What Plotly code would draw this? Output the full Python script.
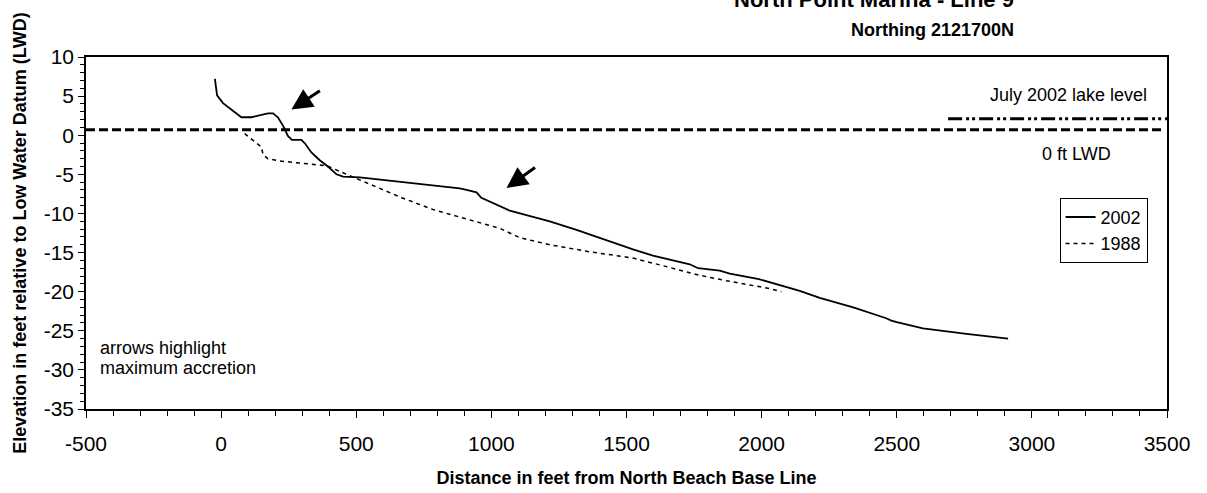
import plotly.graph_objects as go

# 2002 profile
x2002 = [-23, -15, 7, 32, 75, 112, 173, 192, 210, 231, 247, 262, 297, 309, 334, 365, 395, 427, 451,
         513, 650, 883, 908, 945, 963, 994, 1068, 1216, 1315, 1524, 1598, 1734, 1765, 1845, 1882,
         1990, 2103, 2141, 2215, 2339, 2461, 2480, 2500, 2597, 2758, 2912]
y2002 = [7.2, 5.1, 4.1, 3.4, 2.3, 2.3, 2.8, 2.8, 2.3, 1.1, -0.1, -0.6, -0.6, -1.0, -2.2, -3.2, -4.0, -5.0, -5.3,
         -5.4, -5.95, -6.8, -7.0, -7.3, -8.0, -8.5, -9.65, -11.0, -12.1, -14.6, -15.4, -16.5, -17.0, -17.3, -17.7,
         -18.4, -19.5, -19.9, -20.8, -22.0, -23.4, -23.7, -23.9, -24.7, -25.4, -26.0]

# 1988 profile
x1988 = [87, 149, 155, 173, 217, 328, 390, 451, 513, 662, 784, 908, 1031, 1105, 1216, 1364, 1524,
         1648, 1770, 1869, 1918, 2029, 2073]
y1988 = [0.2, -1.5, -2.5, -3.0, -3.3, -3.7, -3.9, -4.8, -5.7, -7.9, -9.5, -10.7, -11.9, -13.1, -14.0, -14.9, -15.7,
         -16.8, -17.9, -18.6, -18.9, -19.6, -20.0]

# reference levels
lwd_x = [-500, 3480]
lwd_y = [0.7, 0.7]
lake_x = [2690, 3500]
lake_y = [2.1, 2.1]

# arrows (tip x, tip y, tail x, tail y)
arrow_tip_x = [260, 1056]
arrow_tip_y = [3.3, -6.75]
arrow_tail_x = [371, 1167]
arrow_tail_y = [5.8, -4.0]

# tick labels
x_tickvals = [-500, 0, 500, 1000, 1500, 2000, 2500, 3000, 3500]
x_ticktext = ["-500", "0", "500", "1000", "1500", "2000", "2500", "3000", "3500"]
y_tickvals = [10, 5, 0, -5, -10, -15, -20, -25, -30, -35]
y_ticktext = ["10", "5", "0", "-5", "-10", "-15", "-20", "-25", "-30", "-35"]

FONT = "Liberation Sans, Arial, Helvetica, sans-serif"

fig = go.Figure()
fig.add_trace(go.Scatter(x=x2002, y=y2002, mode="lines", name="2002",
                         line=dict(color="black", width=1.8)))
fig.add_trace(go.Scatter(x=x1988, y=y1988, mode="lines", name="1988",
                         line=dict(color="black", width=1.5, dash="4px,4px")))
fig.add_trace(go.Scatter(x=lwd_x, y=lwd_y, mode="lines", showlegend=False,
                         line=dict(color="black", width=3, dash="9px,4px")))
fig.add_trace(go.Scatter(x=lake_x, y=lake_y, mode="lines", showlegend=False,
                         line=dict(color="black", width=3, dash="14px,4px,3px,3px,3px,4px")))

for tx, ty, sx, sy in zip(arrow_tip_x, arrow_tip_y, arrow_tail_x, arrow_tail_y):
    fig.add_annotation(x=tx, y=ty, ax=sx, ay=sy, xref="x", yref="y", axref="x", ayref="y",
                       text="", showarrow=True, arrowhead=2, arrowsize=1.4, arrowwidth=3,
                       arrowcolor="black")

ann_font = dict(family=FONT, size=18, color="black")
fig.add_annotation(x=3136, y=5.1, xref="x", yref="y", text="July 2002 lake level",
                   showarrow=False, font=ann_font)
fig.add_annotation(x=3166, y=-2.36, xref="x", yref="y", text="0 ft LWD",
                   showarrow=False, font=ann_font)
fig.add_annotation(x=-455, y=-27.2, xref="x", yref="y", text="arrows highlight",
                   showarrow=False, font=ann_font, xanchor="left")
fig.add_annotation(x=-455, y=-29.7, xref="x", yref="y", text="maximum accretion",
                   showarrow=False, font=ann_font, xanchor="left")

fig.add_annotation(x=0.860, y=1.162, xref="paper", yref="paper", text="<b>North Point Marina - Line 9</b>",
                   showarrow=False, font=dict(family=FONT, size=22, color="black"), yanchor="middle")
fig.add_annotation(x=0.860, y=1.077, xref="paper", yref="paper", text="<b>Northing 2121700N</b>",
                   showarrow=False, font=dict(family=FONT, size=18, color="black"), yanchor="middle")

fig.update_layout(
    width=1207, height=493,
    margin=dict(l=86, r=40, t=57, b=84),
    paper_bgcolor="white", plot_bgcolor="white",
    font=dict(family=FONT, color="black"),
    showlegend=True,
    legend=dict(x=0.982, y=0.60, xanchor="right", yanchor="top",
                bordercolor="black", borderwidth=1, bgcolor="white",
                font=dict(family=FONT, size=18, color="black"),
                tracegroupgap=0, itemwidth=30),
    xaxis=dict(range=[-500, 3500], tickmode="array", tickvals=x_tickvals, ticktext=x_ticktext,
               automargin=False,
               showgrid=False, zeroline=False, showline=True, linecolor="black", linewidth=1.5,
               mirror=True, ticks="outside", ticklen=7, tickwidth=1, tickcolor="black",
               ticklabelstandoff=8,
               minor=dict(dtick=100, tick0=-500, ticks="outside", ticklen=5, tickcolor="black", showgrid=False),
               tickfont=dict(family=FONT, size=21, color="black"),
               title=dict(text="<b>Distance in feet from North Beach Base Line</b>",
                          font=dict(family=FONT, size=18, color="black"), standoff=17)),
    yaxis=dict(range=[-35, 10], tickmode="array", tickvals=y_tickvals, ticktext=y_ticktext,
               automargin=False,
               showgrid=False, zeroline=False, showline=True, linecolor="black", linewidth=1.5,
               mirror=True, ticks="outside", ticklen=6, tickwidth=1, tickcolor="black",
               minor=dict(dtick=1, tick0=-35, ticks="outside", ticklen=4, tickcolor="black", showgrid=False),
               tickfont=dict(family=FONT, size=21, color="black"),
               title=dict(text="<b>Elevation in feet relative to Low Water Datum (LWD)</b>",
                          font=dict(family=FONT, size=18, color="black"), standoff=12)),
)

fig.write_html("out.html")
